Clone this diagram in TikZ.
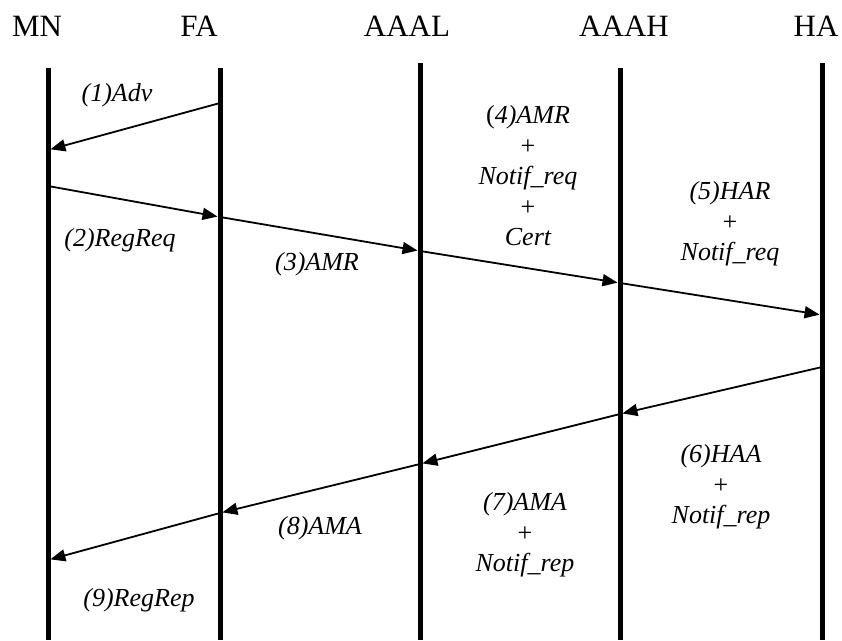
\documentclass[tikz,border=0pt]{standalone}
\usepackage{fontspec}
\setmainfont{Liberation Serif}
\usetikzlibrary{arrows.meta, positioning, calc}
\tikzset{
  actor/.style={font=\fontsize{31}{36}\selectfont, inner sep=0pt, anchor=base},
  life/.style={line width=5pt},
  msg/.style={-{Triangle[length=15pt, width=12pt]}, line width=1.8pt,
              shorten >=2.5pt},
  lbl/.style={font=\fontsize{26}{30.5}\selectfont\itshape, align=center,
              inner sep=0pt},
}
\newcommand{\plusup}{{\upshape+}}

\begin{document}
\begin{tikzpicture}[x=1pt, y=-1pt]
  \useasboundingbox (0,0) rectangle (842,640);
  %% Entities and lifelines
  \foreach \n/\t/\lx/\x/\top in {mn/MN/37/48/68, fa/FA/199/220/68,
      aaal/AAAL/407/420/63, aaah/AAAH/624/620/68, ha/HA/816/822/63} {
    \node[actor] (\n) at (\lx,36) {\t};
    \coordinate (\n-top) at (\x,\top);
    \coordinate (\n-bot) at (\x,640);
    \draw[life] (\n-top) -- (\n-bot);
  }
  %% Message end points on the lifelines
  \foreach \c/\n/\y in {f1/fa/103, m1/mn/150, m2/mn/186, f2/fa/217,
      l3/aaal/251, h4/aaah/283, a5/ha/315, a6/ha/367, h6/aaah/414,
      l7/aaal/464, f8/fa/513, m9/mn/560}
    \coordinate (\c) at (\n-top |- 0,\y);
  %% Messages
  \foreach \a/\b in {f1/m1, m2/f2, f2/l3, l3/h4, h4/a5, a6/h6, h6/l7, l7/f8, f8/m9}
    \draw[msg] (\a) -- (\b);
  %% Labels
  \node[lbl] (adv)    at (117,95)  {(1)Adv};
  \node[lbl] (regreq) at (120,240) {(2)RegReq};
  \node[lbl] (amr)    at (317,264) {(3)AMR};
  \node[lbl] (amrn)   at (528,176) {{\upshape(}4)AMR\\\plusup\\Notif\_req\\\plusup\\Cert};
  \node[lbl] (har)    at (730,224) {(5)HAR\\\plusup\\Notif\_req};
  \node[lbl] (haa)    at (721,487) {(6)HAA\\\plusup\\Notif\_rep};
  \node[lbl] (aman)   at (525,535) {(7)AMA\\\plusup\\Notif\_rep};
  \node[lbl] (ama)    at (320,528) {(8)AMA};
  \node[lbl] (regrep) at (139,600) {(9)RegRep};
\end{tikzpicture}
\end{document}
